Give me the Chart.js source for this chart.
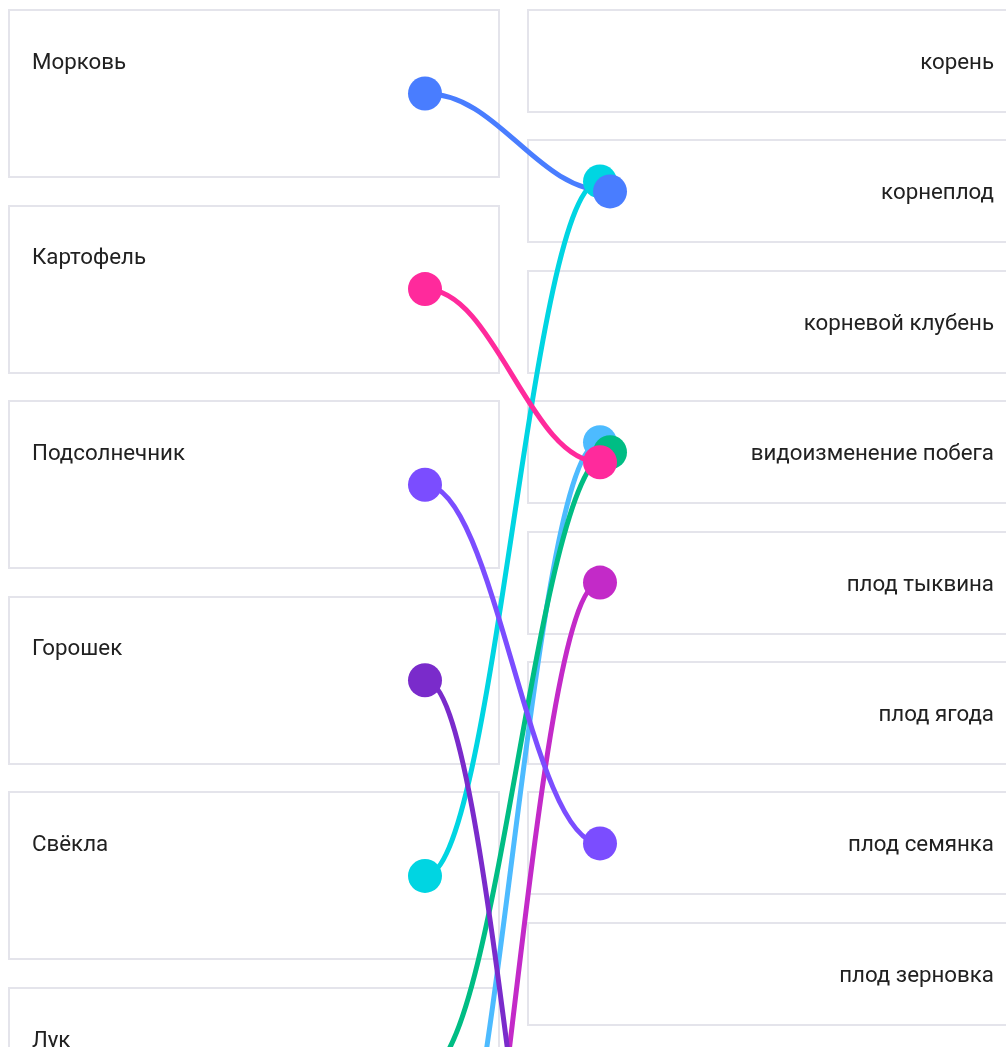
<!DOCTYPE html>
<html>
  <head>
    <meta charset="utf-8">
    <script src="https://cdn.jsdelivr.net/npm/chart.js@4.4.1/dist/chart.umd.min.js"></script>
    <style>
      html, body { margin: 0; padding: 0; background: #fff; overflow: hidden; }
    </style>
  </head>

  <body>
    <canvas id="canvas" width="1006" height="1047"></canvas>
    <script>
      // left column: plants, right column: organ / fruit type
      const leftItems = ['Морковь', 'Картофель', 'Подсолнечник', 'Горошек', 'Свёкла', 'Лук', 'Чеснок', 'Тыква'];
      const rightItems = [
        'корень', 'корнеплод', 'корневой клубень', 'видоизменение побега',
        'плод тыквина', 'плод ягода', 'плод семянка', 'плод зерновка',
        'плод костянка', 'плод коробочка', 'плод стручок', 'плод боб',
      ];

      // links in the order they were made (later ones sit on top)
      const linkFrom = [4, 0, 6, 5, 1, 7, 2, 3];
      const linkTo = [1, 1, 3, 3, 3, 4, 6, 11];
      const linkColors = ['#00d5e2', '#497dff', '#4dbbff', '#00bd84', '#ff2a9c', '#c32ac8', '#7b4dff', '#7a2bcb'];

      // layout
      const LEFT_X = 425, RIGHT_X = 600, W = 1006, H = 1047;
      const LEFT_FIRST = 93.5, LEFT_PITCH = 195.6, LEFT_BOX_H = 169;
      const RIGHT_FIRST = 61, RIGHT_PITCH = 130.4, RIGHT_BOX_H = 104;
      const STACK = [[0, -10], [10, 0], [0, 10]];
      const FONT = '22.3px Roboto';

      const datasets = [];
      linkFrom.forEach((from, k) => {
        datasets.push({
          label: 'from' + k,
          data: [{ x: 0, y: from }],
          yAxisID: 'yL',
          backgroundColor: linkColors[k],
          order: -k,
        });
        datasets.push({
          label: 'to' + k,
          data: [{ x: 1, y: linkTo[k] }],
          yAxisID: 'yR',
          backgroundColor: linkColors[k],
          order: -k,
          stackPos: linkTo.slice(0, k).filter((t) => t === linkTo[k]).length,
          stackCount: linkTo.filter((t) => t === linkTo[k]).length,
        });
      });

      const board = {
        id: 'board',
        afterDatasetsUpdate(chart) {
          chart.data.datasets.forEach((ds, i) => {
            if (ds.stackCount > 1) {
              const pt = chart.getDatasetMeta(i).data[0];
              pt.x += STACK[ds.stackPos][0];
              pt.y += STACK[ds.stackPos][1];
            }
          });
        },
        beforeDatasetsDraw(chart) {
          const ctx = chart.ctx;
          const yL = chart.scales.yL, yR = chart.scales.yR;
          ctx.save();
          ctx.lineWidth = 2;
          ctx.strokeStyle = '#e4e4eb';
          ctx.font = FONT;
          leftItems.forEach((name, i) => {
            const cy = yL.getPixelForValue(i);
            const top = Math.round(cy - LEFT_BOX_H / 2);
            ctx.fillStyle = '#fff';
            ctx.fillRect(8, top, 492, LEFT_BOX_H);
            ctx.strokeRect(9, top + 1, 490, LEFT_BOX_H - 2);
            ctx.fillStyle = '#212121';
            ctx.textAlign = 'left';
            ctx.textBaseline = 'alphabetic';
            ctx.fillText(name, 32, cy - 25);
          });
          rightItems.forEach((name, j) => {
            const cy = yR.getPixelForValue(j);
            const top = Math.round(cy - RIGHT_BOX_H / 2);
            ctx.fillStyle = '#fff';
            ctx.fillRect(527, top, 490, RIGHT_BOX_H);
            ctx.strokeRect(528, top + 1, 490, RIGHT_BOX_H - 2);
            ctx.fillStyle = '#212121';
            ctx.textAlign = 'right';
            ctx.textBaseline = 'alphabetic';
            ctx.fillText(name, 994, cy + 8);
          });

          // links: horizontal-ish cubic curves between the two dots
          ctx.lineWidth = 5;
          ctx.lineCap = 'round';
          linkFrom.forEach((from, k) => {
            const a = chart.getDatasetMeta(2 * k).data[0];
            const b = chart.getDatasetMeta(2 * k + 1).data[0];
            const d = (b.x - a.x) * 0.4;
            ctx.strokeStyle = linkColors[k];
            ctx.beginPath();
            ctx.moveTo(a.x, a.y);
            ctx.bezierCurveTo(a.x + d, a.y, b.x - d, b.y, b.x, b.y);
            ctx.stroke();
          });
          ctx.restore();
        },
      };

      new Chart(document.getElementById('canvas').getContext('2d'), {
        type: 'scatter',
        data: { datasets },
        options: {
          responsive: false,
          animation: false,
          events: [],
          clip: false,
          layout: {
            autoPadding: false,
            padding: { left: LEFT_X, right: W - RIGHT_X, top: 0, bottom: 0 },
          },
          elements: { point: { radius: 17, borderWidth: 0, hoverRadius: 17 } },
          plugins: { legend: { display: false }, tooltip: { enabled: false } },
          scales: {
            x: { type: 'linear', min: 0, max: 1, display: false },
            yL: {
              type: 'linear', reverse: true, display: false,
              min: -LEFT_FIRST / LEFT_PITCH, max: (H - LEFT_FIRST) / LEFT_PITCH,
            },
            yR: {
              type: 'linear', reverse: true, display: false,
              min: -RIGHT_FIRST / RIGHT_PITCH, max: (H - RIGHT_FIRST) / RIGHT_PITCH,
            },
          },
        },
        plugins: [board],
      });
    </script>
  </body>
</html>
